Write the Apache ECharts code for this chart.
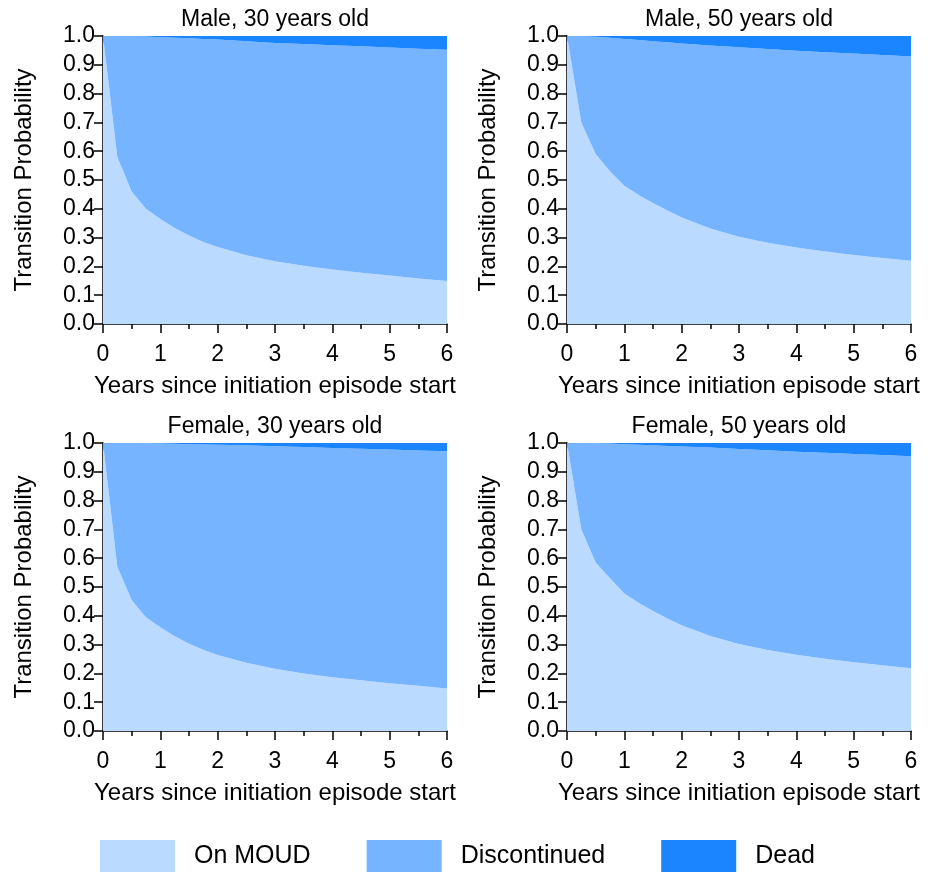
<!DOCTYPE html>
<html>
<head>
<meta charset="utf-8">
<script src="https://cdn.jsdelivr.net/npm/echarts@6/dist/echarts.min.js"></script>
<style>
html,body{margin:0;padding:0;background:#fff;}
#chart{width:938px;height:873px;}
</style>
</head>
<body>
<div id="chart"></div>
<script>
// Years since initiation episode start
const years = [0, 0.25, 0.5, 0.75, 1, 1.25, 1.5, 1.75, 2, 2.5, 3, 3.5, 4, 4.5, 5, 5.5, 6];

const panelTitles = ["Male, 30 years old", "Male, 50 years old", "Female, 30 years old", "Female, 50 years old"];
const seriesNames = ["On MOUD", "Discontinued", "Dead"];

// On MOUD
const male30Moud   = [1.0, 0.58, 0.46, 0.40, 0.365, 0.333, 0.307, 0.285, 0.267, 0.239, 0.218, 0.202, 0.189, 0.178, 0.168, 0.158, 0.149];
const male50Moud   = [1.0, 0.70, 0.59, 0.53, 0.48, 0.448, 0.42, 0.394, 0.37, 0.332, 0.303, 0.282, 0.266, 0.252, 0.24, 0.229, 0.22];
const female30Moud = [1.0, 0.57, 0.455, 0.395, 0.36, 0.329, 0.303, 0.282, 0.264, 0.237, 0.216, 0.2, 0.187, 0.176, 0.166, 0.157, 0.148];
const female50Moud = [1.0, 0.70, 0.585, 0.53, 0.477, 0.445, 0.417, 0.391, 0.367, 0.33, 0.302, 0.281, 0.265, 0.251, 0.239, 0.228, 0.218];

// Discontinued
const male30Disc   = [0, 0.419, 0.539, 0.598, 0.631, 0.661, 0.685, 0.705, 0.721, 0.743, 0.758, 0.770, 0.779, 0.786, 0.792, 0.798, 0.803];
const male50Disc   = [0, 0.299, 0.407, 0.464, 0.51, 0.538, 0.562, 0.584, 0.604, 0.635, 0.658, 0.673, 0.683, 0.692, 0.699, 0.705, 0.709];
const female30Disc = [0, 0.43, 0.545, 0.604, 0.638, 0.668, 0.693, 0.713, 0.730, 0.755, 0.773, 0.786, 0.796, 0.804, 0.811, 0.817, 0.823];
const female50Disc = [0, 0.30, 0.414, 0.468, 0.519, 0.549, 0.575, 0.599, 0.621, 0.654, 0.677, 0.694, 0.705, 0.715, 0.723, 0.730, 0.736];

// Dead
const male30Dead   = [0, 0.001, 0.001, 0.002, 0.004, 0.006, 0.008, 0.010, 0.012, 0.018, 0.024, 0.028, 0.032, 0.036, 0.040, 0.044, 0.048];
const male50Dead   = [0, 0.001, 0.003, 0.006, 0.01, 0.014, 0.018, 0.022, 0.026, 0.033, 0.039, 0.045, 0.051, 0.056, 0.061, 0.066, 0.071];
const female30Dead = [0, 0, 0, 0.001, 0.002, 0.003, 0.004, 0.005, 0.006, 0.008, 0.011, 0.014, 0.017, 0.020, 0.023, 0.026, 0.029];
const female50Dead = [0, 0, 0.001, 0.002, 0.004, 0.006, 0.008, 0.010, 0.012, 0.016, 0.021, 0.025, 0.030, 0.034, 0.038, 0.042, 0.046];

const xTicks = [0, 1, 2, 3, 4, 5, 6];
const yTicks = [0.0, 0.1, 0.2, 0.3, 0.4, 0.5, 0.6, 0.7, 0.8, 0.9, 1.0];

const panels = [
  [male30Moud, male30Disc, male30Dead],
  [male50Moud, male50Disc, male50Dead],
  [female30Moud, female30Disc, female30Dead],
  [female50Moud, female50Disc, female50Dead]
];

const colors = ["#BBDAFF", "#76B4FF", "#1A85FF"];
const FONT = "Liberation Sans, Arial, sans-serif";

const gridPos = [
  {left: 103, top: 36, width: 344, height: 288},
  {left: 567, top: 36, width: 344, height: 288},
  {left: 103, top: 443, width: 344, height: 288},
  {left: 567, top: 443, width: 344, height: 288}
];

const grids = [], xAxes = [], yAxes = [], series = [];
gridPos.forEach((g, i) => {
  grids.push(Object.assign({containLabel: false}, g));
  xAxes.push({
    type: 'value', gridIndex: i, min: xTicks[0], max: xTicks[xTicks.length - 1], interval: 1,
    name: 'Years since initiation episode start', nameLocation: 'middle', nameGap: 50,
    nameTextStyle: {fontFamily: FONT, fontSize: 24, color: '#000'},
    axisLine: {show: true, onZero: false, lineStyle: {color: '#000', width: 1.5}},
    axisTick: {show: true, length: 9, lineStyle: {color: '#000', width: 1.5}},
    minorTick: {show: true, splitNumber: 2, length: 5, lineStyle: {color: '#000', width: 1.5}},
    axisLabel: {fontFamily: FONT, fontSize: 23, color: '#000', margin: 19},
    splitLine: {show: false}
  });
  // top axis used as panel title
  xAxes.push({
    type: 'value', gridIndex: i, position: 'top', min: 0, max: 6,
    name: panelTitles[i], nameLocation: 'middle', nameGap: 5,
    nameTextStyle: {fontFamily: FONT, fontSize: 23, color: '#000', verticalAlign: 'bottom'},
    axisLine: {show: false}, axisTick: {show: false}, axisLabel: {show: false}, splitLine: {show: false}
  });
  yAxes.push({
    type: 'value', gridIndex: i, min: yTicks[0], max: yTicks[yTicks.length - 1], interval: 0.1,
    name: 'Transition Probability', nameLocation: 'middle', nameGap: 67,
    nameTextStyle: {fontFamily: FONT, fontSize: 24, color: '#000'},
    axisLine: {show: true, lineStyle: {color: '#000', width: 1.5}},
    axisTick: {show: true, length: 9, lineStyle: {color: '#000', width: 1.5}},
    axisLabel: {fontFamily: FONT, fontSize: 23, color: '#000', margin: 8,
      formatter: v => v.toFixed(1)},
    splitLine: {show: false}
  });
  panels[i].forEach((vals, k) => {
    series.push({
      name: seriesNames[k], type: 'line', xAxisIndex: i * 2, yAxisIndex: i,
      stack: 'p' + i, stackStrategy: 'all',
      // value first so the stacked dimension is the y value
      data: years.map((x, j) => [vals[j], x]),
      encode: {x: 1, y: 0},
      showSymbol: false, symbol: 'none', smooth: false,
      lineStyle: {width: 0, color: colors[k]},
      itemStyle: {color: colors[k]},
      areaStyle: {color: colors[k], opacity: 1},
      silent: true, z: 2 + k
    });
  });
});

const chart = echarts.init(document.getElementById('chart'), null, {renderer: 'canvas'});
chart.setOption({
  animation: false,
  backgroundColor: '#fff',
  grid: grids,
  xAxis: xAxes,
  yAxis: yAxes,
  legend: {
    data: seriesNames.map((n, k) => ({name: n, icon: 'rect', itemStyle: {color: colors[k]}})),
    left: 95, top: 835, itemWidth: 75, itemHeight: 32, itemGap: 56,
    selectedMode: false,
    textStyle: {fontFamily: FONT, fontSize: 25, color: '#000', padding: [0, 0, 0, 14]}
  },
  series: series
});
</script>
</body>
</html>
